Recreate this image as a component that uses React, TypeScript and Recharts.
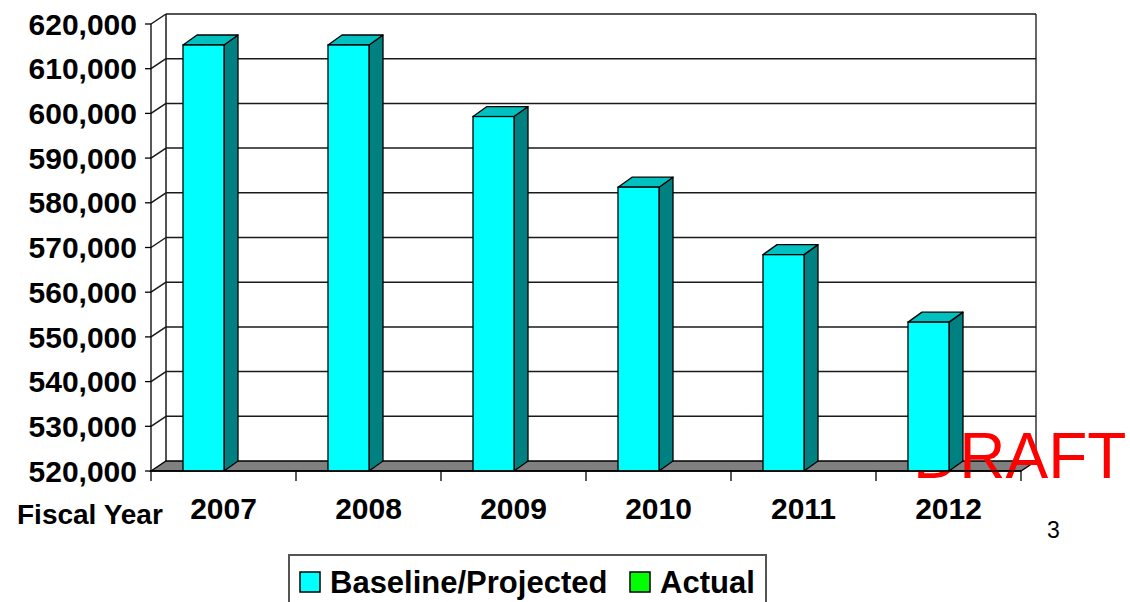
import React from 'react';
import { BarChart, Bar, XAxis, YAxis, CartesianGrid } from 'recharts';

// Fiscal years and baseline/projected counts
const years = ['2007', '2008', '2009', '2010', '2011', '2012'];
const baselineValues = [615300, 615300, 599300, 583500, 568400, 553300];
const yTicks = [520000, 530000, 540000, 550000, 560000, 570000, 580000, 590000, 600000, 610000, 620000];
const legendNames = ['Baseline/Projected', 'Actual'];
const legendColors = ['#00FFFF', '#00FF00'];

const data = years.map((year, i) => ({ year, baseline: baselineValues[i] }));

// Layout
const W = 1130;
const H = 602;
const MARGIN = { top: 24, right: 109, bottom: 71, left: 0 };
const Y_AXIS_W = 151;
const X_AXIS_H = 60;
const PLOT_TOP = MARGIN.top;
const PLOT_BOTTOM = H - MARGIN.bottom - X_AXIS_H;
const PLOT_LEFT = MARGIN.left + Y_AXIS_W;
const PLOT_RIGHT = W - MARGIN.right;

// 3D depth offsets
const DEPTH_X = 15;
const DEPTH_Y = -10;
const BAR_DX = 14;
const BAR_DY = -10;
const BAR_SHIFT = 20;

const FONT = "'Liberation Sans', Arial, Helvetica, sans-serif";

function gridLine(props: any) {
  const { x1, y1, x2, index } = props;
  const isBottom = Math.abs(y1 - PLOT_BOTTOM) < 1;
  const line = (
    <g key={`grid-${index}`}>
      <line x1={x1} y1={y1} x2={x1 + DEPTH_X} y2={y1 + DEPTH_Y} stroke="#1a1a1a" strokeWidth={1.5} />
      <line x1={x1 + DEPTH_X} y1={y1 + DEPTH_Y} x2={x2 + DEPTH_X} y2={y1 + DEPTH_Y} stroke="#1a1a1a" strokeWidth={1.5} />
    </g>
  );
  if (!isBottom) return line;
  // back wall edges, floor and watermark
  return (
    <g key={`grid-${index}`}>
      <line x1={PLOT_LEFT + DEPTH_X} y1={PLOT_TOP + DEPTH_Y} x2={PLOT_LEFT + DEPTH_X} y2={PLOT_BOTTOM + DEPTH_Y} stroke="#1a1a1a" strokeWidth={1.5} />
      <line x1={PLOT_RIGHT + DEPTH_X} y1={PLOT_TOP + DEPTH_Y} x2={PLOT_RIGHT + DEPTH_X} y2={PLOT_BOTTOM + DEPTH_Y} stroke="#333" strokeWidth={1.5} />
      <polygon
        points={`${x1},${y1} ${x1 + DEPTH_X},${y1 + DEPTH_Y} ${x2 + DEPTH_X},${y1 + DEPTH_Y} ${x2},${y1}`}
        fill="#808080"
        stroke="#000"
        strokeWidth={1.3}
      />
      <text x={913} y={478} fontSize={64} fill="#FF0000" fontFamily={FONT}>DRAFT</text>
    </g>
  );
}

function Bar3D(props: any) {
  const { x, y, width, height } = props;
  if (height == null || width == null) return null;
  const fx = x - BAR_SHIFT;
  const bottom = y + height;
  return (
    <g>
      <polygon
        points={`${fx + width},${y} ${fx + width + BAR_DX},${y + BAR_DY} ${fx + width + BAR_DX},${bottom + BAR_DY} ${fx + width},${bottom}`}
        fill="#008080"
        stroke="#000"
        strokeWidth={1.3}
        strokeLinejoin="round"
      />
      <polygon
        points={`${fx},${y} ${fx + BAR_DX},${y + BAR_DY} ${fx + width + BAR_DX},${y + BAR_DY} ${fx + width},${y}`}
        fill="#00C0C0"
        stroke="#000"
        strokeWidth={1.3}
        strokeLinejoin="round"
      />
      <rect x={fx} y={y} width={width} height={height} fill="#00FFFF" stroke="#000" strokeWidth={1.3} />
    </g>
  );
}

function YearTick(props: any) {
  const { x, y, payload, index, visibleTicksCount } = props;
  const bw = (PLOT_RIGHT - PLOT_LEFT) / (visibleTicksCount || years.length);
  const last = index === (visibleTicksCount || years.length) - 1;
  return (
    <g>
      <line x1={x - bw / 2} y1={y} x2={x - bw / 2} y2={y + 10} stroke="#000" strokeWidth={1.3} />
      {last && <line x1={x + bw / 2} y1={y} x2={x + bw / 2} y2={y + 10} stroke="#000" strokeWidth={1.3} />}
      <text x={x} y={y + 48} textAnchor="middle" fontSize={30} fontWeight={700} fontFamily={FONT} fill="#000">
        {payload.value}
      </text>
    </g>
  );
}

export default function App() {
  return (
    <div style={{ position: 'absolute', left: 0, top: 0, width: W, height: H, overflow: 'hidden', background: '#fff' }}>
      <BarChart width={W} height={H} data={data} margin={MARGIN} barSize={41}>
        <CartesianGrid vertical={false} horizontal={gridLine} />
        <XAxis
          dataKey="year"
          height={X_AXIS_H}
          interval={0}
          tickSize={0}
          tickMargin={0}
          tickLine={false}
          axisLine={{ stroke: '#000', strokeWidth: 1.3 }}
          tick={(p: any) => <YearTick {...p} />}
        />
        <YAxis
          width={Y_AXIS_W}
          domain={[520000, 620000]}
          ticks={yTicks}
          interval={0}
          allowDataOverflow
          tickSize={6}
          tickMargin={8}
          tickLine={{ stroke: '#000', strokeWidth: 1.3 }}
          axisLine={{ stroke: '#000', strokeWidth: 1.3 }}
          tickFormatter={(v: number) => v.toLocaleString('en-US')}
          tick={{ fill: '#000', fontSize: 30, fontWeight: 700, fontFamily: FONT }}
        />
        <Bar dataKey="baseline" isAnimationActive={false} shape={(p: any) => <Bar3D {...p} />} />
      </BarChart>
      <svg width={W} height={H} style={{ position: 'absolute', left: 0, top: 0, pointerEvents: 'none' }}>
        <text x={17} y={524} fontSize={28} fontWeight={700} fontFamily={FONT} fill="#000">Fiscal Year</text>
        <text x={1047} y={538} fontSize={23} fontFamily={FONT} fill="#000">3</text>
        <g>
          <rect x={289} y={555} width={477} height={60} fill="#fff" stroke="#555" strokeWidth={2} />
          <rect x={300} y={572} width={20} height={20} fill={legendColors[0]} stroke="#000" strokeWidth={1.5} />
          <text x={330} y={593} fontSize={31} fontWeight={700} fontFamily={FONT} fill="#000">{legendNames[0]}</text>
          <rect x={630} y={572} width={20} height={20} fill={legendColors[1]} stroke="#000" strokeWidth={1.5} />
          <text x={660} y={593} fontSize={31} fontWeight={700} fontFamily={FONT} fill="#000">{legendNames[1]}</text>
        </g>
      </svg>
    </div>
  );
}
